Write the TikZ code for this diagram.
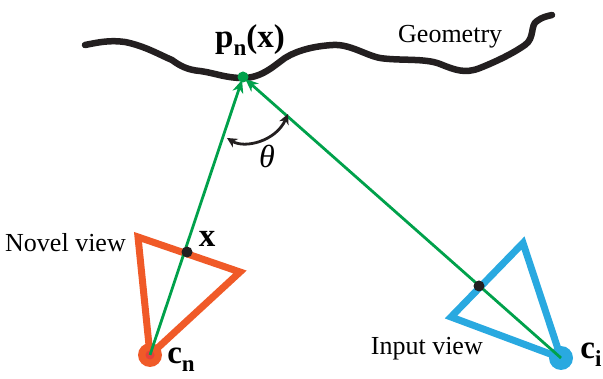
\documentclass[tikz,border=0pt]{standalone}
\usepackage{fontspec}
\setmainfont{Liberation Serif}
\usetikzlibrary{arrows.meta}
\definecolor{geoblack}{HTML}{231F20}
\definecolor{novelor}{HTML}{F05A28}
\definecolor{inpblue}{HTML}{29A9E0}
\definecolor{raygreen}{HTML}{00A14B}
\definecolor{camred}{HTML}{E8403A}
\tikzset{
  geo/.style={line width=6.5pt, geoblack, line cap=round, line join=round},
  cam/.style={line width=7pt, line join=miter},
  ray/.style={line width=2.8pt, raygreen, -{Stealth[length=13pt,width=11pt,inset=4pt]}, shorten >=3pt},
  ptdot/.style={circle, fill=geoblack, inner sep=0pt, minimum size=11pt},
  lbl/.style={font=\fontsize{26}{28}\selectfont, inner sep=1pt},
  blbl/.style={font=\fontsize{33}{35}\selectfont\bfseries, inner sep=1pt},
  sub/.style={}
}
\newcommand{\subn}[1]{\raisebox{-0.5ex}{\fontsize{23}{24}\selectfont #1}}
\begin{document}
\begin{tikzpicture}[x=1pt,y=-1pt]
\useasboundingbox (0,0) rectangle (603,379);
% geometry curve
\draw[geo] (85,45) .. controls (100,42) and (110,40) .. (125,42)
  .. controls (145,46) and (160,55) .. (172,60)
  .. controls (180,66) and (188,70) .. (200,71)
  .. controls (215,73) and (225,78) .. (243,78)
  .. controls (262,78) and (275,65) .. (285,58)
  .. controls (298,50) and (315,46) .. (333,45)
  .. controls (350,44) and (365,55) .. (380,58)
  .. controls (400,61) and (425,58) .. (440,64)
  .. controls (455,70) and (465,74) .. (480,68)
  .. controls (500,60) and (515,52) .. (525,45)
  .. controls (535,38) and (530,25) .. (537,21)
  .. controls (542,17) and (548,16) .. (552,15);
% coordinates
\coordinate (p) at (243,77);
\coordinate (cn) at (150,355);
\coordinate (ci) at (561,358);
\coordinate (nA) at (138,237);
\coordinate (nB) at (240,272);
\coordinate (iA) at (523,243);
\coordinate (iB) at (451,317);
% cameras
\draw[cam, novelor] (cn) -- (nA) -- (nB) -- cycle;
\draw[cam, inpblue] (ci) -- (iA) -- (iB) -- cycle;
\fill[novelor] (cn) circle (12pt);
\fill[camred] (cn) circle (4.5pt);
\fill[inpblue] (ci) circle (12pt);
% rays
\draw[ray] (cn) -- (p);
\draw[ray] (ci) -- (p);
\fill[raygreen] (p) circle (5.5pt);
% points
\node[ptdot] (x) at (187,252) {};
\node[ptdot] (xi) at (479,286) {};
% theta arc
\coordinate (tA) at (227,138);
\coordinate (tB) at (288,114);
\draw[line width=2.8pt, geoblack, {Stealth[length=10pt,width=10pt,inset=3pt]}-{Stealth[length=10pt,width=10pt,inset=3pt]}]
  (tA) .. controls (245,149) and (276,141) .. (tB);
% labels
\node[font=\fontsize{32}{34}\selectfont\itshape, inner sep=0pt] (theta) at (267,156) {θ};
\node[lbl, anchor=west] (geomlbl) at (397,37) {Geometry};
\node[lbl, anchor=east] (novellbl) at (127,243) {Novel view};
\node[lbl, anchor=east] (inputlbl) at (484,349) {Input view};
\node[blbl] (xlbl) at (207,239) {x};
\node[blbl] (plbl) at (250,40) {p\subn{n}(x)};
\node[blbl] (cnlbl) at (181,360) {c\subn{n}};
\node[blbl] (cilbl) at (591,355) {c\subn{i}};
\end{tikzpicture}
\end{document}
